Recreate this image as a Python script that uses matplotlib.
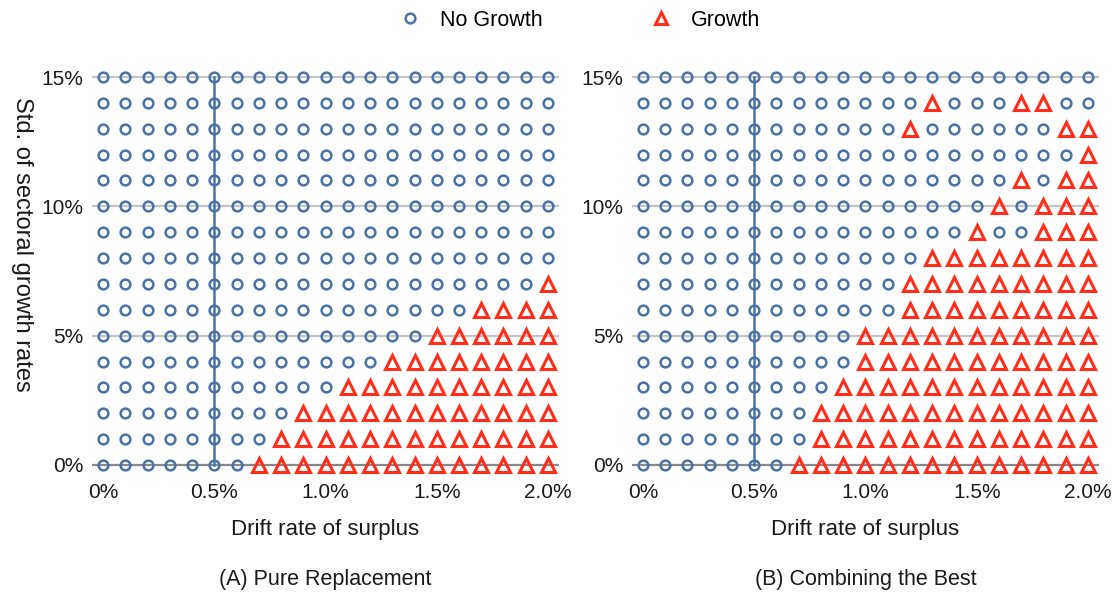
import matplotlib.pyplot as plt
from matplotlib.lines import Line2D

plt.rcParams['font.family'] = ['Liberation Sans', 'DejaVu Sans']

# grid of simulated settings
drift_rates = [i / 10 for i in range(21)]      # % surplus drift
sector_std = list(range(16))                   # % std of sectoral growth

# one string per std level (top row = 15%), 'o' = no growth, '^' = growth
pure_replacement = [
    'ooooooooooooooooooooo',
    'ooooooooooooooooooooo',
    'ooooooooooooooooooooo',
    'ooooooooooooooooooooo',
    'ooooooooooooooooooooo',
    'ooooooooooooooooooooo',
    'ooooooooooooooooooooo',
    'ooooooooooooooooooooo',
    'oooooooooooooooooooo^',
    'ooooooooooooooooo^^^^',
    'ooooooooooooooo^^^^^^',
    'ooooooooooooo^^^^^^^^',
    'ooooooooooo^^^^^^^^^^',
    'ooooooooo^^^^^^^^^^^^',
    'oooooooo^^^^^^^^^^^^^',
    'ooooooo^^^^^^^^^^^^^^',
]

combining_best = [
    'ooooooooooooooooooooo',
    'ooooooooooooo^ooo^^oo',
    'oooooooooooo^oooooo^^',
    'oooooooooooooooooooo^',
    'ooooooooooooooooo^o^^',
    'oooooooooooooooo^o^^^',
    'ooooooooooooooo^oo^^^',
    'ooooooooooooo^^^^^^^^',
    'oooooooooooo^^^^^^^^^',
    'oooooooooooo^^^^^^^^^',
    'oooooooooo^^^^^^^^^^^',
    'oooooooooo^^^^^^^^^^^',
    'ooooooooo^^^^^^^^^^^^',
    'oooooooo^^^^^^^^^^^^^',
    'oooooooo^^^^^^^^^^^^^',
    'ooooooo^^^^^^^^^^^^^^',
]

panels = [('(A) Pure Replacement', pure_replacement),
          ('(B) Combining the Best', combining_best)]

x_ticks = [0, 0.5, 1.0, 1.5, 2.0]
x_labels = ['0%', '0.5%', '1.0%', '1.5%', '2.0%']
y_ticks = [0, 5, 10, 15]
y_labels = ['0%', '5%', '10%', '15%']

BLUE = '#4a72a8'
RED = '#ff2d1a'
TXT = '#1a1a1a'

fig = plt.figure(figsize=(11.14, 6.01), dpi=100)
lefts = [0.0825, 0.5672]

for left, (caption, rows) in zip(lefts, panels):
    ax = fig.add_axes([left, 0.2005, 0.4194, 0.6972])

    no_x, no_y, gr_x, gr_y = [], [], [], []
    for s, row in zip(reversed(sector_std), rows):
        for d, ch in zip(drift_rates, row):
            if ch == '^':
                gr_x.append(d)
                gr_y.append(s)
            else:
                no_x.append(d)
                no_y.append(s)

    for yv in y_ticks:
        ax.axhline(yv, color='#888888' if yv == 0 else '#c4c4c4', lw=1.6, zorder=1)
    ax.plot([0.5, 0.5], [0, 15], color=BLUE, lw=1.8, zorder=2)

    ax.plot(no_x, no_y, 'o', ms=7, mfc='none', mec=BLUE, mew=1.8, zorder=3)
    ax.plot(gr_x, gr_y, '^', ms=10.5, mfc='none', mec=RED, mew=2.2, zorder=4)

    ax.set_xlim(-0.05, 2.05)
    ax.set_ylim(-0.6, 15.6)
    ax.set_xticks(x_ticks)
    ax.set_xticklabels(x_labels)
    ax.set_yticks(y_ticks)
    ax.set_yticklabels(y_labels)
    ax.tick_params(length=0, labelsize=15, colors=TXT)
    ax.tick_params(axis='x', pad=1.5)
    ax.tick_params(axis='y', pad=6)
    for sp in ax.spines.values():
        sp.set_visible(False)

    cx = left + 0.4194 / 2
    fig.text(cx, 1 - 530 / 601, 'Drift rate of surplus', ha='center', va='center',
             fontsize=16, color=TXT)
    fig.text(cx, 1 - 579 / 601, caption, ha='center', va='center',
             fontsize=15.5, color=TXT)

fig.text(22 / 1114, 1 - 244 / 601, 'Std. of sectoral growth rates', rotation=270,
         ha='center', va='center', fontsize=17, color=TXT)

handles = [Line2D([], [], ls='none', marker='o', ms=7, mfc='none', mec=BLUE, mew=1.8),
           Line2D([], [], ls='none', marker='^', ms=8.5, mfc='none', mec=RED, mew=2.2)]
fig.legend(handles, ['No Growth', 'Growth'], loc='center', bbox_to_anchor=(0.5155, 1 - 20 / 601),
           ncol=2, frameon=False, fontsize=15.5, columnspacing=4.5, handletextpad=0.4,
           handlelength=2.0)

fig.savefig('out.png', dpi=100)
